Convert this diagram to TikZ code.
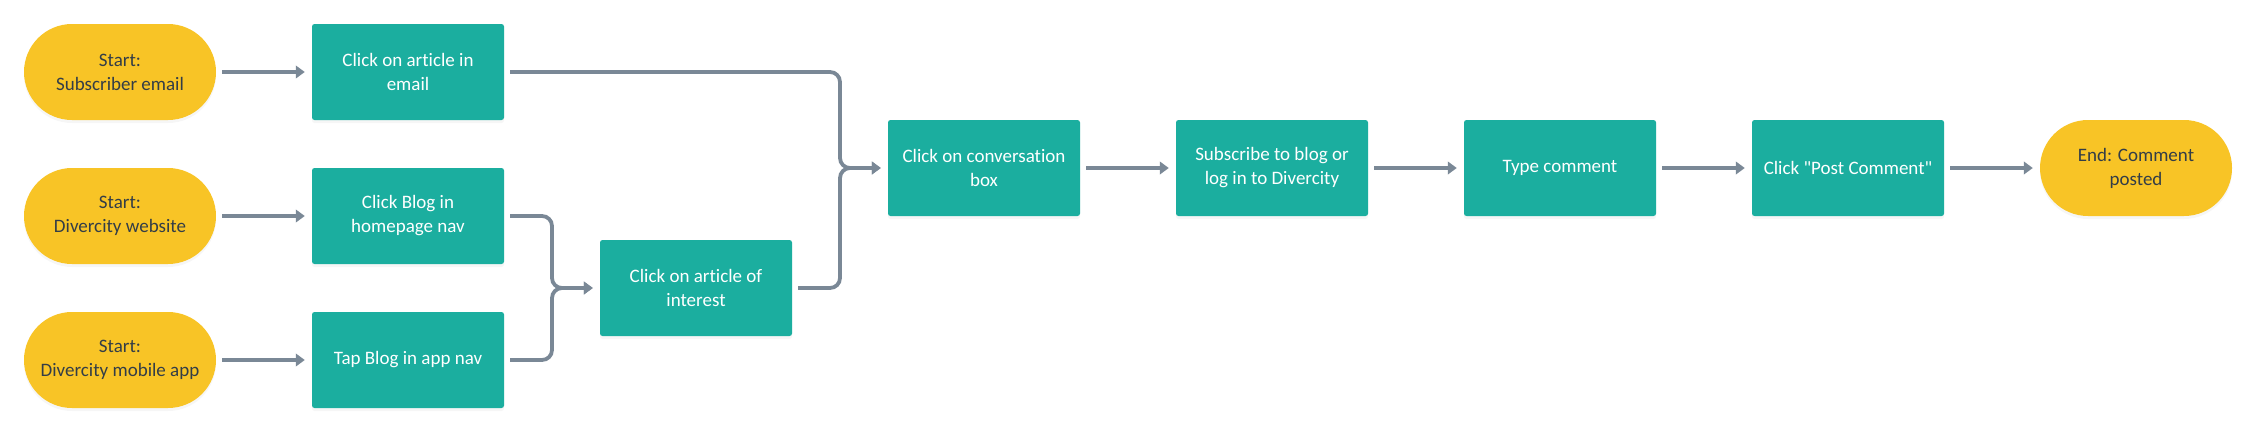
\documentclass[tikz,border=0pt]{standalone}
\usepackage{fontspec}
\newfontfamily\carl{Carlito}[Ligatures=NoCommon]
\usetikzlibrary{arrows.meta,shadows}
\definecolor{teal}{HTML}{1BAE9F}
\definecolor{sun}{HTML}{F8C426}
\definecolor{wire}{HTML}{7A8896}
\definecolor{ink}{HTML}{333D47}
\begin{document}
\begin{tikzpicture}[x=1pt,y=-1pt,
  base/.style={minimum width=192pt,minimum height=96pt,inner sep=0pt,align=center,
    font=\carl\fontsize{19pt}{24pt}\selectfont,
    drop shadow={shadow xshift=0pt,shadow yshift=-3pt,opacity=0.07}},
  terminal/.style={base,fill=sun,text=ink,rounded corners=48pt},
  stepbox/.style={base,fill=teal,text=white,rounded corners=2.5pt},
  arr/.style={draw=wire,line width=3.8pt,rounded corners=10pt,
    -{Triangle[length=9pt,width=12.5pt]},shorten <=6pt,shorten >=7pt}]
\useasboundingbox (0,0) rectangle (2256,432);
% column 0
\node[terminal] (s1) at (120,72) {Start:\\Subscriber email};
\node[terminal] (s2) at (120,216) {Start:\\Divercity website};
\node[terminal] (s3) at (120,360) {Start:\\Divercity mobile app};
% column 1
\node[stepbox] (b1) at (408,72) {Click on article in\\email};
\node[stepbox] (b2) at (408,216) {Click Blog in\\homepage nav};
\node[stepbox] (b3) at (408,360) {Tap Blog in app nav};
% column 2
\node[stepbox] (ai) at (696,288) {Click on article of\\interest};
% main row
\node[stepbox] (cb) at (984,168) {Click on conversation\\box};
\node[stepbox] (sb) at (1272,168) {Subscribe to blog or\\log in to Divercity};
\node[stepbox] (tc) at (1560,168) {Type comment};
\node[stepbox] (pc) at (1848,168) {Click "Post Comment"};
\node[terminal] (en) at (2136,168) {End: Comment\\posted};
% merge points
\coordinate (m1) at (552,288);
\coordinate (m2) at (840,168);
% connectors
\draw[arr] (s1) -- (b1);
\draw[arr] (s2) -- (b2);
\draw[arr] (s3) -- (b3);
\draw[arr] (b2.east) -| (m1) -- (ai.west);
\draw[arr] (b3.east) -| (m1) -- (ai.west);
\draw[arr] (b1.east) -| (m2) -- (cb.west);
\draw[arr] (ai.east) -| (m2) -- (cb.west);
\draw[arr] (cb) -- (sb);
\draw[arr] (sb) -- (tc);
\draw[arr] (tc) -- (pc);
\draw[arr] (pc) -- (en);
\end{tikzpicture}
\end{document}
